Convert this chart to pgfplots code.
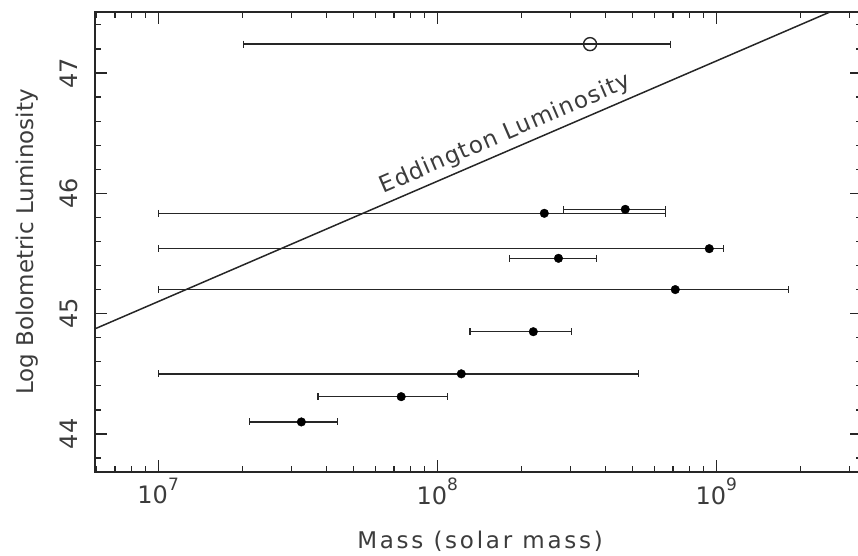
\documentclass[border=0pt]{standalone}
\usepackage{fontspec}
\setmainfont{DejaVu Sans}
\newfontfamily\widefont[LetterSpace=12]{DejaVu Sans}
\newfontfamily\spacedfont[LetterSpace=5]{DejaVu Sans}
\usepackage{pgfplots}
\pgfplotsset{compat=1.18}
\definecolor{ink}{gray}{0.15}
\begin{document}
\begin{tikzpicture}
\begin{axis}[
  scale only axis,
  width=767pt, height=460pt,
  xmode=log,
  xmin=5.94e6, xmax=3.33e9,
  ymin=43.684, ymax=47.507,
  axis line style={ink, line width=1.4pt},
  every tick/.style={ink, line width=1.2pt},
  major tick length=12pt, minor tick length=6pt,
  tick align=inside,
  xtick={1e7,1e8,1e9},
  xticklabels={10\raisebox{0.55em}{\fontsize{17}{17}\selectfont 7},
               10\raisebox{0.55em}{\fontsize{17}{17}\selectfont 8},
               10\raisebox{0.55em}{\fontsize{17}{17}\selectfont 9}},
  minor xtick={6e6,7e6,8e6,9e6,2e7,3e7,4e7,5e7,6e7,7e7,8e7,9e7,
               2e8,3e8,4e8,5e8,6e8,7e8,8e8,9e8,2e9,3e9},
  ytick={44,45,46,47},
  yticklabels={44,45,46,47},
  minor ytick={43.8,44.2,44.4,44.6,44.8,45.2,45.4,45.6,45.8,
               46.2,46.4,46.6,46.8,47.2,47.4},
  tick label style={font=\fontsize{24}{24}\selectfont, text=ink!90},
  xticklabel style={anchor=north, inner sep=0pt},
  xticklabel shift=6pt,
  yticklabel style={rotate=90, anchor=south, inner sep=0pt},
  yticklabel shift=17pt,
  xlabel={\widefont Mass (solar mass)},
  ylabel={Log Bolometric Luminosity},
  label style={font=\fontsize{23}{23}\selectfont, text=ink!90},
  xlabel style={at={(axis description cs:0.502,0)}, anchor=north, yshift=-55pt},
  ylabel style={at={(axis description cs:0,0.50)}, anchor=south, yshift=53pt},
  clip=true,
]
% Eddington limit: log L = log M + 38.1
\addplot[ink, line width=1.5pt] coordinates {(5.94e6,44.874) (3.33e9,47.622)};
\node[ink!90, rotate=23.3, anchor=south, inner sep=5pt,
      font=\fontsize{23}{23}\spacedfont] at (axis cs:1.85e8,46.367) {Eddington Luminosity};

% mass uncertainty ranges
\addplot[ink, line width=1.4pt, mark=|, mark size=3.5pt,
         mark options={line width=1.2pt}, unbounded coords=jump] coordinates {
  (2.02e7,47.24) (6.84e8,47.24) (nan,nan)
  (1.0e7,45.834) (6.56e8,45.834) (nan,nan)
  (2.83e8,45.867) (6.56e8,45.867) (nan,nan)
  (1.0e7,45.54) (1.06e9,45.54) (nan,nan)
  (1.81e8,45.46) (3.72e8,45.46) (nan,nan)
  (1.0e7,45.20) (1.81e9,45.20) (nan,nan)
  (1.31e8,44.85) (3.02e8,44.85) (nan,nan)
  (1.0e7,44.50) (5.25e8,44.50) (nan,nan)
  (3.74e7,44.31) (1.09e8,44.31) (nan,nan)
  (2.12e7,44.10) (4.38e7,44.10)
};

% estimated masses
\addplot[only marks, mark=*, mark size=4.3pt, fill=black, draw=black] coordinates {
  (2.42e8,45.834) (4.72e8,45.867) (9.44e8,45.54) (2.72e8,45.46)
  (7.13e8,45.20) (2.21e8,44.85) (1.22e8,44.50) (7.43e7,44.31) (3.26e7,44.10)
};
\addplot[only marks, mark=o, mark size=6.5pt, draw=ink, line width=1.4pt, fill=white] coordinates {
  (3.53e8,47.24)
};
\end{axis}
\pgfresetboundingbox
\useasboundingbox (-95pt,-83pt) rectangle (763pt,472pt);
\end{tikzpicture}
\end{document}
